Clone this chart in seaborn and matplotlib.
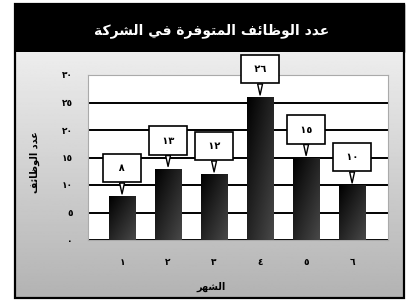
import numpy as np
import pandas as pd
import matplotlib
matplotlib.use("Agg")
import matplotlib.pyplot as plt
from matplotlib.patches import Rectangle
import seaborn as sns

# données
months = [1, 2, 3, 4, 5, 6]
jobs = [8, 13, 12, 26, 15, 10]
y_ticks = [0, 5, 10, 15, 20, 25, 30]
title_txt = "عدد الوظائف المتوفرة في الشركة"
xlabel_txt = "الشهر"
ylabel_txt = "عدد الوظائف"

# mise en forme arabe (formes de présentation + ordre visuel)
FORMS = {
    "ا": ("\uFE8D", "\uFE8E", None, None),
    "ع": ("\uFEC9", "\uFECA", "\uFECB", "\uFECC"),
    "د": ("\uFEA9", "\uFEAA", None, None),
    "ل": ("\uFEDD", "\uFEDE", "\uFEDF", "\uFEE0"),
    "و": ("\uFEED", "\uFEEE", None, None),
    "ظ": ("\uFEC5", "\uFEC6", "\uFEC7", "\uFEC8"),
    "ئ": ("\uFE89", "\uFE8A", "\uFE8B", "\uFE8C"),
    "ف": ("\uFED1", "\uFED2", "\uFED3", "\uFED4"),
    "م": ("\uFEE1", "\uFEE2", "\uFEE3", "\uFEE4"),
    "ت": ("\uFE95", "\uFE96", "\uFE97", "\uFE98"),
    "ر": ("\uFEAD", "\uFEAE", None, None),
    "ة": ("\uFE93", "\uFE94", None, None),
    "ي": ("\uFEF1", "\uFEF2", "\uFEF3", "\uFEF4"),
    "ش": ("\uFEB5", "\uFEB6", "\uFEB7", "\uFEB8"),
    "ك": ("\uFED9", "\uFEDA", "\uFEDB", "\uFEDC"),
    "ه": ("\uFEE9", "\uFEEA", "\uFEEB", "\uFEEC"),
}


def shape(text):
    out = []
    for i, c in enumerate(text):
        if c not in FORMS:
            out.append(c)
            continue
        iso, fin, ini, med = FORMS[c]
        prev = text[i - 1] if i > 0 else None
        nxt = text[i + 1] if i + 1 < len(text) else None
        jp = prev in FORMS and FORMS[prev][2] is not None
        jn = ini is not None and nxt in FORMS
        if jp and jn:
            out.append(med)
        elif jp:
            out.append(fin)
        elif jn:
            out.append(ini)
        else:
            out.append(iso)
    return "".join(reversed(out))


def ar_num(n):
    return str(n).translate(str.maketrans("0123456789", "٠١٢٣٤٥٦٧٨٩"))


df = pd.DataFrame({"month": [ar_num(m) for m in months], "jobs": jobs})

plt.rcParams["font.family"] = ["DejaVu Sans"]
plt.rcParams["font.weight"] = "bold"

fig = plt.figure(figsize=(4.12, 3.02), dpi=100)
fig.patch.set_facecolor("white")

W, H = 412, 302
fx0, fx1 = 15 / W, 404 / W
fy0, fy1 = 1 - 298 / H, 1 - 4 / H
ty = 1 - 52 / H

# fond dégradé
ax_bg = fig.add_axes([fx0, fy0, fx1 - fx0, ty - fy0])
grad = np.linspace(0.93, 0.70, 200).reshape(-1, 1)
ax_bg.imshow(grad, cmap="gray", vmin=0, vmax=1, aspect="auto", extent=[0, 1, 0, 1])
ax_bg.axis("off")

# bandeau titre
fig.add_artist(Rectangle((fx0, ty), fx1 - fx0, fy1 - ty, transform=fig.transFigure,
                         facecolor="black", edgecolor="black", zorder=0))
fig.add_artist(Rectangle((fx0, fy0), fx1 - fx0, fy1 - fy0, transform=fig.transFigure,
                         fill=False, edgecolor="black", lw=1.6, zorder=5))
fig.text(212 / W, 1 - 31 / H, shape(title_txt), color="white", fontsize=10,
         fontweight="bold", ha="center", va="center")

# graphique
ax = fig.add_axes([88 / W, 1 - 240 / H, 300 / W, 165 / H])
sns.barplot(data=df, x="month", y="jobs", color="#111111", width=0.58,
            saturation=1, ax=ax, zorder=3)

# dégradé sur les barres
bar_grad = np.linspace(0, 1, 100).reshape(1, -1) + np.linspace(0, 1, 100).reshape(-1, 1)
for p in ax.patches:
    x, y = p.get_x(), p.get_y()
    im = ax.imshow(bar_grad, cmap="gray", vmin=0, vmax=7, aspect="auto",
                   extent=[x, x + p.get_width(), y, y + p.get_height()], zorder=4)
    im.set_clip_path(p)

ax.set_xlim(-0.74, 5.78)
ax.set_ylim(0, 30)
ax.set_facecolor("white")
ax.set_yticks(y_ticks)
ax.set_yticklabels([ar_num(t) for t in y_ticks])
ax.tick_params(axis="both", length=0, labelsize=6.5)
ax.tick_params(axis="y", pad=11)
ax.tick_params(axis="x", pad=13)
ax.yaxis.grid(True, color="black", lw=1.4)
ax.set_axisbelow(True)
for s in ax.spines.values():
    s.set_color("#aaaaaa")
    s.set_linewidth(0.8)

ax.set_xlabel(shape(xlabel_txt), fontsize=7, fontweight="bold")
ax.xaxis.set_label_coords(0.41, -0.255)
ax.set_ylabel(shape(ylabel_txt), fontsize=7, fontweight="bold")
ax.yaxis.set_label_coords(-0.16, 0.47)

# étiquettes en bulle
for i, v in enumerate(jobs):
    lab = ar_num(v)
    lab = ("  " + lab + "  ") if len(lab) == 1 else (" " + lab + " ")
    ax.annotate(lab, xy=(i, v), xytext=(0, 20), textcoords="offset points",
                ha="center", va="center", fontsize=7, fontweight="bold",
                bbox=dict(boxstyle="square,pad=0.95", fc="white", ec="black", lw=1.2),
                arrowprops=dict(arrowstyle="wedge,tail_width=0.5", fc="white",
                                ec="black", lw=1.0, shrinkA=0, shrinkB=1.5),
                zorder=6, annotation_clip=False)

fig.savefig("out.png", dpi=100)
